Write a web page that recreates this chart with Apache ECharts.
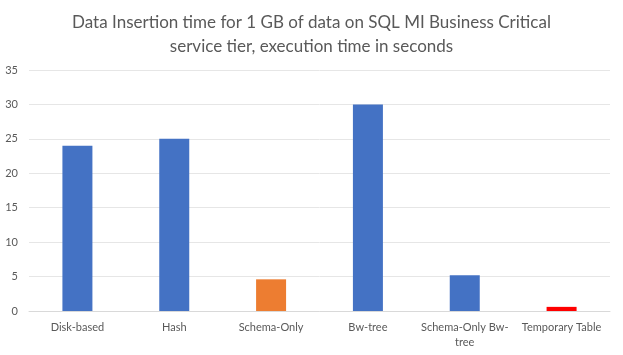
<!DOCTYPE html>
<html><head><meta charset="utf-8">
<script src="https://cdn.jsdelivr.net/npm/echarts@6/dist/echarts.min.js"></script>
<style>html,body{margin:0;padding:0;background:#fff}#c{width:623px;height:355px}</style>
</head><body><div id="c"></div>
<script>
var categories = ['Disk-based', 'Hash', 'Schema-Only', 'Bw-tree', 'Schema-Only Bw-tree', 'Temporary Table'];
var values = [24, 25, 4.6, 30, 5.2, 0.6];
var barColors = ['#4472C4', '#4472C4', '#ED7D31', '#4472C4', '#4472C4', '#FF0000'];
var yTicks = [0, 5, 10, 15, 20, 25, 30, 35];
var titleText = 'Data Insertion time for 1 GB of data on SQL MI Business Critical\nservice tier, execution time in seconds';

var chart = echarts.init(document.getElementById('c'), null, {renderer: 'canvas'});
chart.setOption({
  animation: false,
  title: {
    text: titleText, left: 'center', top: 6,
    textStyle: {fontFamily: 'Lato', fontSize: 17, fontWeight: 'normal', color: '#595959', lineHeight: 24}
  },
  grid: {left: 29, right: 13, top: 70, bottom: 44},
  xAxis: {
    type: 'category', data: categories,
    axisLine: {lineStyle: {color: '#d9d9d9'}},
    axisTick: {show: false},
    axisLabel: {
      color: '#595959', fontFamily: 'Lato', fontSize: 11, margin: 9, interval: 0, lineHeight: 15,
      formatter: function (v) { return v === 'Schema-Only Bw-tree' ? 'Schema-Only Bw-\ntree' : v; }
    }
  },
  yAxis: {
    type: 'value', min: yTicks[0], max: yTicks[yTicks.length - 1], interval: 5,
    axisLine: {show: false}, axisTick: {show: false},
    axisLabel: {color: '#595959', fontFamily: 'Lato', fontSize: 11, margin: 11},
    splitLine: {lineStyle: {color: '#e6e6e6'}}
  },
  series: [{
    type: 'bar', barWidth: 30,
    data: values.map(function (v, i) { return {value: v, itemStyle: {color: barColors[i]}}; })
  }]
});
</script></body></html>
